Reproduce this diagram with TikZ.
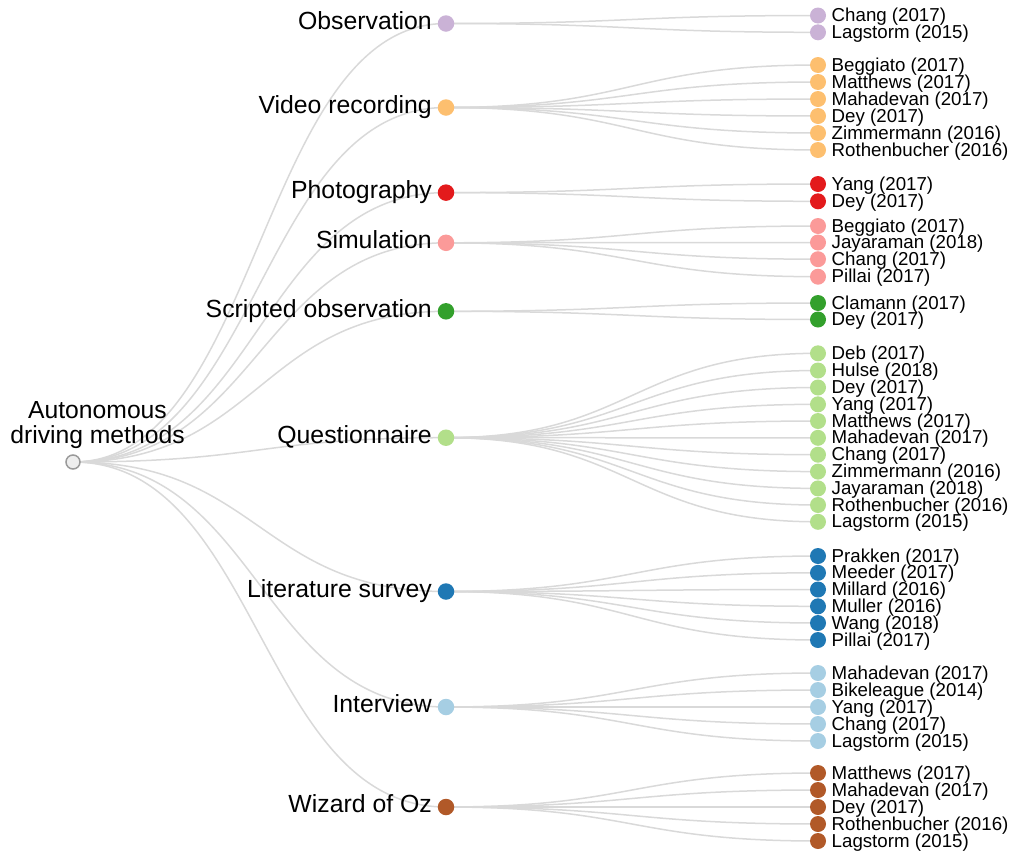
\documentclass[tikz,border=0pt]{standalone}
\usepackage{fontspec}
\setmainfont{Liberation Sans}
\usetikzlibrary{calc}

% Paired palette
\definecolor{pairLtBlue}{HTML}{A6CEE3}
\definecolor{pairBlue}{HTML}{1F78B4}
\definecolor{pairLtGreen}{HTML}{B2DF8A}
\definecolor{pairGreen}{HTML}{33A02C}
\definecolor{pairPink}{HTML}{FB9A99}
\definecolor{pairRed}{HTML}{E31A1C}
\definecolor{pairLtOrange}{HTML}{FDBF6F}
\definecolor{pairLtPurple}{HTML}{CAB2D6}
\definecolor{pairBrown}{HTML}{B15928}
\definecolor{linkgray}{HTML}{D9D9D9}
\definecolor{rootfill}{HTML}{EEEEEE}
\definecolor{rootstroke}{HTML}{9A9A9A}

\pgfdeclarelayer{textlayer}
\pgfdeclarelayer{edgelayer}
\pgfsetlayers{edgelayer,textlayer,main}

\tikzset{
  link/.style={draw=linkgray, line width=1.5pt},
  rootdot/.style={circle, draw=rootstroke, fill=rootfill, line width=1.5pt, minimum size=14pt, inner sep=0pt},
  middot/.style={circle, minimum size=16.5pt, inner sep=0pt},
  leafdot/.style={circle, minimum size=16pt, inner sep=0pt},
  rootlabel/.style={anchor=base, inner sep=0pt, font=\fontsize{24.7}{26}\selectfont},
  midlabel/.style={anchor=base east, inner sep=0pt, font=\fontsize{24.8}{26}\selectfont},
  leaflabel/.style={anchor=base west, inner sep=0pt, font=\fontsize{18.7}{20}\selectfont},
}

% horizontal cubic link between two named nodes
\newcommand\treelink[2]{%
  \draw[link] let \p1=(#1), \p2=(#2) in
    (\p1) .. controls ({(\x1+\x2)/2},\y1) and ({(\x1+\x2)/2},\y2) .. (\p2);}

% one method with its list of references (y/text pairs)
\newcommand\methodgroup[5]{%
  \node[middot, fill=#3] (#1) at (446,#2) {};
  \begin{pgfonlayer}{textlayer}
    \node[midlabel] (#1-label) at (432,#2+5.8) {#4};
  \end{pgfonlayer}
  \begin{pgfonlayer}{edgelayer}\treelink{root}{#1}\end{pgfonlayer}
  \foreach \ly/\lt [count=\k] in {#5} {
    \node[leafdot, fill=#3] (#1-\k) at (818,\ly) {};
    \begin{pgfonlayer}{textlayer}
      \node[leaflabel] (#1-\k-label) at (831.5,\ly+6) {\lt};
    \end{pgfonlayer}
    \begin{pgfonlayer}{edgelayer}\treelink{#1}{#1-\k}\end{pgfonlayer}
  }}

\begin{document}
\begin{tikzpicture}[x=1pt, y=-1pt]
  \useasboundingbox (0,0) rectangle (1010,852);

  \node[rootdot] (root) at (73,462) {};
  \begin{pgfonlayer}{textlayer}
    \node[rootlabel] (root-label-1) at (97.5,418.8) {Autonomous};
    \node[rootlabel] (root-label-2) at (97.5,443.8) {driving methods};
  \end{pgfonlayer}

  \methodgroup{obs}{23.5}{pairLtPurple}{Observation}
    {15.5/Chang (2017), 32.3/Lagstorm (2015)}
  \methodgroup{video}{107.5}{pairLtOrange}{Video recording}
    {65/Beggiato (2017), 82/Matthews (2017), 99/Mahadevan (2017),
     116/Dey (2017), 133/Zimmermann (2016), 150/Rothenbucher (2016)}
  \methodgroup{photo}{192.6}{pairRed}{Photography}
    {184/Yang (2017), 201.3/Dey (2017)}
  \methodgroup{sim}{242.8}{pairPink}{Simulation}
    {226/Beggiato (2017), 242.5/Jayaraman (2018), 259.2/Chang (2017), 276.7/Pillai (2017)}
  \methodgroup{script}{311.3}{pairGreen}{Scripted observation}
    {303/Clamann (2017), 319.5/Dey (2017)}
  \methodgroup{quest}{437.7}{pairLtGreen}{Questionnaire}
    {353.3/Deb (2017), 370.5/Hulse (2018), 387.5/Dey (2017), 404.3/Yang (2017),
     421/Matthews (2017), 437.8/Mahadevan (2017), 454.7/Chang (2017),
     471.6/Zimmermann (2016), 488.4/Jayaraman (2018), 505/Rothenbucher (2016),
     521.8/Lagstorm (2015)}
  \methodgroup{lit}{591.5}{pairBlue}{Literature survey}
    {556/Prakken (2017), 572.8/Meeder (2017), 589.5/Millard (2016),
     606.3/Muller (2016), 623/Wang (2018), 640/Pillai (2017)}
  \methodgroup{inter}{707}{pairLtBlue}{Interview}
    {673/Mahadevan (2017), 690/Bikeleague (2014), 707/Yang (2017),
     724/Chang (2017), 741/Lagstorm (2015)}
  \methodgroup{woz}{807}{pairBrown}{Wizard of Oz}
    {773/Matthews (2017), 790/Mahadevan (2017), 807/Dey (2017),
     824/Rothenbucher (2016), 841/Lagstorm (2015)}
\end{tikzpicture}
\end{document}
